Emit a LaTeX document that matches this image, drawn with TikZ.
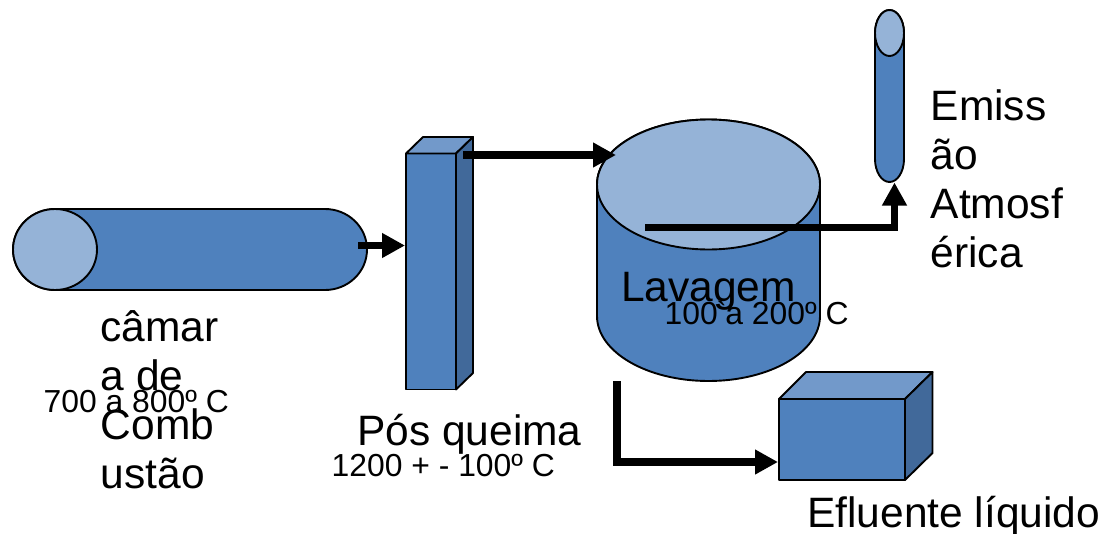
\documentclass[tikz,border=0pt]{standalone}
\usepackage{fontspec}
\setmainfont{Liberation Sans}
\newfontfamily\plainsans{Liberation Sans}
\usetikzlibrary{arrows.meta}
\definecolor{mainblue}{HTML}{4F81BD}
\definecolor{lightblue}{HTML}{95B3D7}
\definecolor{topblue}{HTML}{7299CA}
\definecolor{sideblue}{HTML}{41699A}
\tikzset{
  shapeline/.style={draw=black,line width=1.9pt,line join=round},
  flow/.style={line width=7.6pt,line join=miter,-{Triangle[length=23pt,width=23.5pt]}},
  biglabel/.style={inner sep=0pt,anchor=base west,align=left,font=\fontsize{42.5}{49}\selectfont},
  smalllabel/.style={inner sep=0pt,anchor=base west,font=\fontsize{31.85}{36}\selectfont},
}
\begin{document}
\begin{tikzpicture}[x=1pt,y=-1pt]
\useasboundingbox (0,0) rectangle (1106,533);
% horizontal cylinder
\filldraw[shapeline,fill=mainblue] (55,209) -- (325,209) arc[start angle=-90,end angle=90,x radius=42,y radius=40.5] -- (55,290) arc[start angle=90,end angle=270,x radius=42,y radius=40.5] -- cycle;
\filldraw[shapeline,fill=lightblue] (55,249.5) ellipse[x radius=42,y radius=40.5];
% tall box
\filldraw[shapeline,fill=mainblue] (406,153.5) rectangle (456,389.5);
\filldraw[shapeline,fill=topblue] (406,153.5) -- (423,137) -- (473,137) -- (456,153.5) -- cycle;
\filldraw[shapeline,fill=sideblue] (456,153.5) -- (473,137) -- (473,373) -- (456,389.5) -- cycle;
% wash cylinder
\filldraw[shapeline,fill=mainblue] (597,184.5) -- (597,316) arc[start angle=180,end angle=0,x radius=111.5,y radius=65] -- (820,184.5) arc[start angle=0,end angle=-180,x radius=111.5,y radius=65] -- cycle;
\filldraw[shapeline,fill=lightblue] (708.5,184.5) ellipse[x radius=111.5,y radius=65];
% stack
\filldraw[shapeline,fill=mainblue] (875,33) arc[start angle=180,end angle=360,x radius=14.5,y radius=23] -- (904,159) arc[start angle=0,end angle=180,x radius=14.5,y radius=23] -- cycle;
\filldraw[shapeline,fill=lightblue] (889.5,33) ellipse[x radius=14.5,y radius=23];
% effluent box
\filldraw[shapeline,fill=mainblue] (779,399) rectangle (905,480);
\filldraw[shapeline,fill=topblue] (779,399) -- (806,372) -- (932.5,372) -- (905,399) -- cycle;
\filldraw[shapeline,fill=sideblue] (905,399) -- (932.5,372) -- (932.5,453) -- (905,480) -- cycle;
% connector ends
\coordinate (a1) at (358,245.5);
\coordinate (a2) at (405,245.5);
\coordinate (b1) at (463,155);
\coordinate (b2) at (616,155);
\coordinate (c1) at (645,227.5);
\coordinate (c2) at (894.5,227.5);
\coordinate (c3) at (894.5,182.5);
\coordinate (d1) at (617,381);
\coordinate (d2) at (617,462);
\coordinate (d3) at (778,462);
\draw[flow] (a1) -- (a2);
\draw[flow] (b1) -- (b2);
\draw[flow] (c1) -- (c2) -- (c3);
\draw[flow] (d1) -- (d2) -- (d3);
% labels
\node[biglabel] (camara) at (100.5,488) {câmar\\a de\\Comb\\ustão};
\node[smalllabel] (t700) at (43.5,412) {700 a 800º C};
\node[biglabel] (posq) at (357,445) {Pós queima};
\node[smalllabel] (t1200) at (331.5,476) {1200 + - 100º C};
\node[biglabel] (lav) at (621,301) {Lavagem};
\node[smalllabel] (t100) at (664.5,324) {\plainsans 100\kern-1.5pt`\kern-1.5pt a 200º C};
\node[biglabel] (emis) at (930.5,267) {Emiss\\ão\\Atmosf\\érica};
\node[biglabel] (eflu) at (807,527) {Efluente líquido};
\end{tikzpicture}
\end{document}
